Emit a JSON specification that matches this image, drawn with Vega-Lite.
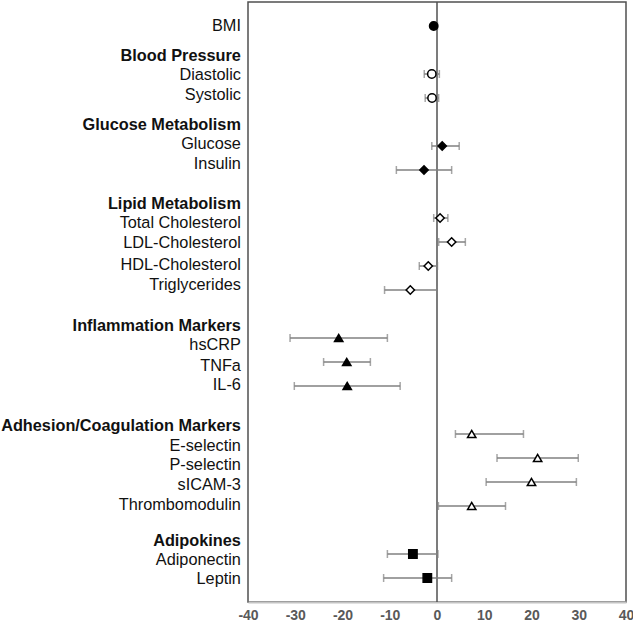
{
  "$schema": "https://vega.github.io/schema/vega-lite/v6.json",
  "width": 378,
  "height": 600,
  "autosize": "none",
  "padding": {"left": 248, "top": 2, "right": 7, "bottom": 22},
  "background": "white",
  "config": {
    "view": {"stroke": "#505050", "strokeWidth": 1.5},
    "font": "Liberation Sans"
  },
  "datasets": {
    "est": [
      {"name": "BMI", "group": "BMI", "row": 1, "est": -0.7, "lo": -1.1, "hi": 0.1},
      {"name": "Diastolic", "group": "Blood Pressure", "row": 3, "est": -1.1, "lo": -2.7, "hi": 0.5},
      {"name": "Systolic", "group": "Blood Pressure", "row": 4, "est": -1.05, "lo": -2.5, "hi": 0.35},
      {"name": "Glucose", "group": "Glucose Metabolism", "row": 6, "est": 1.1, "lo": -1.1, "hi": 4.7},
      {"name": "Insulin", "group": "Glucose Metabolism", "row": 7, "est": -2.75, "lo": -8.6, "hi": 3.1},
      {"name": "Total Cholesterol", "group": "Lipid Metabolism", "row": 9, "est": 0.65, "lo": -0.7, "hi": 2.3},
      {"name": "LDL-Cholesterol", "group": "Lipid Metabolism", "row": 10, "est": 3.1, "lo": 0.35, "hi": 6.0},
      {"name": "HDL-Cholesterol", "group": "Lipid Metabolism", "row": 11, "est": -1.85, "lo": -3.75, "hi": 0.1},
      {"name": "Triglycerides", "group": "Lipid Metabolism", "row": 12, "est": -5.65, "lo": -11.1, "hi": 0.0},
      {"name": "hsCRP", "group": "Inflammation Markers", "row": 14, "est": -20.8, "lo": -31.1, "hi": -10.5},
      {"name": "TNFa", "group": "Inflammation Markers", "row": 15, "est": -19.1, "lo": -24.0, "hi": -14.1},
      {"name": "IL-6", "group": "Inflammation Markers", "row": 16, "est": -19.0, "lo": -30.2, "hi": -7.8},
      {"name": "E-selectin", "group": "Adhesion/Coagulation Markers", "row": 18, "est": 7.35, "lo": 3.9, "hi": 18.3},
      {"name": "P-selectin", "group": "Adhesion/Coagulation Markers", "row": 19, "est": 21.3, "lo": 12.7, "hi": 29.9},
      {"name": "sICAM-3", "group": "Adhesion/Coagulation Markers", "row": 20, "est": 20.0, "lo": 10.4, "hi": 29.5},
      {"name": "Thrombomodulin", "group": "Adhesion/Coagulation Markers", "row": 21, "est": 7.35, "lo": 0.3, "hi": 14.5},
      {"name": "Adiponectin", "group": "Adipokines", "row": 23, "est": -5.1, "lo": -10.5, "hi": 0.2},
      {"name": "Leptin", "group": "Adipokines", "row": 24, "est": -2.05, "lo": -11.3, "hi": 3.1}
    ],
    "labels": [
      {"label": "BMI", "pos": 0.97, "header": false},
      {"label": "Blood Pressure", "pos": 2.19, "header": true},
      {"label": "Diastolic", "pos": 3.01, "header": false},
      {"label": "Systolic", "pos": 3.82, "header": false},
      {"label": "Glucose Metabolism", "pos": 5.07, "header": true},
      {"label": "Glucose", "pos": 5.87, "header": false},
      {"label": "Insulin", "pos": 6.69, "header": false},
      {"label": "Lipid Metabolism", "pos": 8.37, "header": true},
      {"label": "Total Cholesterol", "pos": 9.17, "header": false},
      {"label": "LDL-Cholesterol", "pos": 10.02, "header": false},
      {"label": "HDL-Cholesterol", "pos": 10.9, "header": false},
      {"label": "Triglycerides", "pos": 11.73, "header": false},
      {"label": "Inflammation Markers", "pos": 13.47, "header": true},
      {"label": "hsCRP", "pos": 14.27, "header": false},
      {"label": "TNFa", "pos": 15.11, "header": false},
      {"label": "IL-6", "pos": 15.9, "header": false},
      {"label": "Adhesion/Coagulation Markers", "pos": 17.61, "header": true},
      {"label": "E-selectin", "pos": 18.44, "header": false},
      {"label": "P-selectin", "pos": 19.26, "header": false},
      {"label": "sICAM-3", "pos": 20.07, "header": false},
      {"label": "Thrombomodulin", "pos": 20.9, "header": false},
      {"label": "Adipokines", "pos": 22.4, "header": true},
      {"label": "Adiponectin", "pos": 23.19, "header": false},
      {"label": "Leptin", "pos": 24.02, "header": false}
    ],
    "zero": [{"v": 0}]
  },
  "encoding": {
    "y": {"field": "row", "type": "quantitative", "scale": {"domain": [0, 25], "reverse": true, "nice": false, "zero": false}, "axis": null}
  },
  "layer": [
    {
      "data": {"name": "zero"},
      "mark": {"type": "rule", "color": "#505050", "strokeWidth": 1.5},
      "encoding": {
        "x": {"field": "v", "type": "quantitative", "scale": {"domain": [-40, 40], "nice": false}, "axis": {
          "values": [-40, -30, -20, -10, 0, 10, 20, 30, 40],
          "labelExpr": "datum.value + ''",
          "title": null, "grid": false, "ticks": false,
          "domainColor": "#c4c4c4", "domainWidth": 2,
          "labelFont": "Liberation Sans", "labelFontSize": 14, "labelFontWeight": "bold",
          "labelColor": "#595959", "labelPadding": 6, "labelFlush": false
        }},
        "y": {"value": 0},
        "y2": {"value": 600}
      }
    },
    {
      "data": {"name": "est"},
      "mark": {"type": "rule", "color": "#808080", "strokeWidth": 1.5},
      "encoding": {
        "x": {"field": "lo", "type": "quantitative"},
        "x2": {"field": "hi"}
      }
    },
    {
      "data": {"name": "est"},
      "mark": {"type": "tick", "orient": "vertical", "color": "#808080", "thickness": 1.5, "size": 8},
      "encoding": {"x": {"field": "lo", "type": "quantitative"}}
    },
    {
      "data": {"name": "est"},
      "mark": {"type": "tick", "orient": "vertical", "color": "#808080", "thickness": 1.5, "size": 8},
      "encoding": {"x": {"field": "hi", "type": "quantitative"}}
    },
    {
      "data": {"name": "est"},
      "mark": {"type": "point", "filled": true, "opacity": 1, "stroke": "black", "strokeWidth": 1.5},
      "encoding": {
        "x": {"field": "est", "type": "quantitative"},
        "shape": {"field": "group", "type": "nominal", "legend": null, "scale": {
          "domain": ["BMI", "Blood Pressure", "Glucose Metabolism", "Lipid Metabolism", "Inflammation Markers", "Adhesion/Coagulation Markers", "Adipokines"],
          "range": ["circle", "circle", "diamond", "diamond", "triangle-up", "triangle-up", "square"]}},
        "fill": {"field": "group", "type": "nominal", "legend": null, "scale": {
          "domain": ["BMI", "Blood Pressure", "Glucose Metabolism", "Lipid Metabolism", "Inflammation Markers", "Adhesion/Coagulation Markers", "Adipokines"],
          "range": ["black", "white", "black", "white", "black", "white", "black"]}},
        "size": {"field": "group", "type": "nominal", "legend": null, "scale": {
          "domain": ["BMI", "Blood Pressure", "Glucose Metabolism", "Lipid Metabolism", "Inflammation Markers", "Adhesion/Coagulation Markers", "Adipokines"],
          "range": [70, 70, 60, 60, 80, 80, 110]}}
      }
    },
    {
      "data": {"name": "labels"},
      "transform": [{"filter": "!datum.header"}],
      "mark": {"type": "text", "align": "right", "baseline": "middle", "dy": 1, "fontSize": 16.3, "color": "#111111", "font": "Liberation Sans"},
      "encoding": {
        "x": {"datum": -41.5, "type": "quantitative"},
        "y": {"field": "pos", "type": "quantitative"},
        "text": {"field": "label"}
      }
    },
    {
      "data": {"name": "labels"},
      "transform": [{"filter": "datum.header"}],
      "mark": {"type": "text", "align": "right", "baseline": "middle", "dy": 1, "fontSize": 16.3, "fontWeight": "bold", "color": "#111111", "font": "Liberation Sans"},
      "encoding": {
        "x": {"datum": -41.5, "type": "quantitative"},
        "y": {"field": "pos", "type": "quantitative"},
        "text": {"field": "label"}
      }
    }
  ]
}
